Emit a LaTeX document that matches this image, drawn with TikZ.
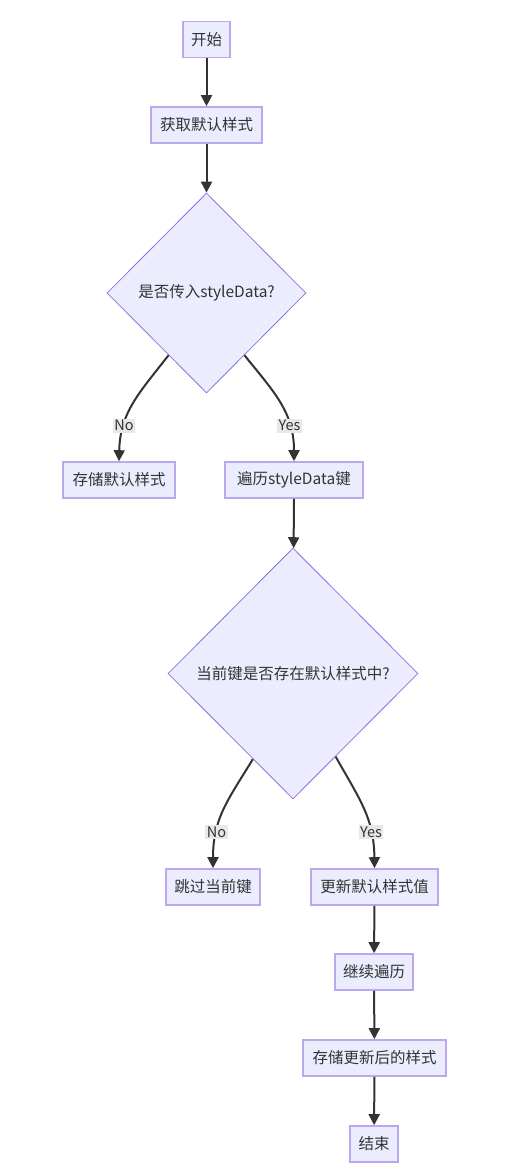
\documentclass[tikz,border=0pt]{standalone}
\usepackage{fontspec}
\setmainfont{Noto Sans CJK SC}
\usetikzlibrary{shapes.geometric,arrows.meta,calc}
\definecolor{nodefill}{HTML}{ECECFF}
\definecolor{boxline}{HTML}{BBA8EE}
\definecolor{diamline}{HTML}{9370DB}
\definecolor{ink}{HTML}{333333}
\definecolor{lblbg}{HTML}{E8E8E8}
\tikzset{
  box/.style={draw=boxline, line width=1.6pt, fill=nodefill, text=ink, inner sep=0pt,
    minimum height=36pt, font=\fontsize{15.5}{17}\selectfont},
  decision/.style={diamond, draw=diamline, line width=0.8pt, fill=nodefill, text=ink,
    inner sep=0pt, font=\fontsize{15.5}{17}\selectfont},
  flow/.style={draw=ink, line width=2pt, -{Triangle[length=11pt,width=11pt]}},
  lbl/.style={fill=lblbg, text=ink, inner sep=1.5pt, font=\fontsize{14.5}{16}\selectfont}
}
\begin{document}
\begin{tikzpicture}[x=1pt,y=-1pt]
\useasboundingbox (0,0) rectangle (512,1170);
\node[box, minimum width=47pt]  (start) at (206.5,39.5) {开始};
\node[box, minimum width=111pt] (get)   at (206.5,125) {获取默认样式};
\node[decision, minimum width=199pt, minimum height=200pt] (d1) at (206.5,293) {是否传入styleData?};
\node[box, minimum width=112pt] (store) at (119,480) {存储默认样式};
\node[box, minimum width=138pt] (iter)  at (294,480) {遍历styleData键};
\node[decision, minimum width=250pt, minimum height=251pt] (d2) at (293,673.5) {当前键是否存在默认样式中?};
\node[box, minimum width=94pt]  (skip)  at (213,887) {跳过当前键};
\node[box, minimum width=127pt] (upd)   at (374.5,887) {更新默认样式值};
\node[box, minimum width=78pt]  (cont)  at (374,972) {继续遍历};
\node[box, minimum width=143pt] (save)  at (374.5,1058) {存储更新后的样式};
\node[box, minimum width=48pt]  (end)   at (374,1144) {结束};

\draw[flow] (start) -- (get);
\draw[flow] (get) -- (d1);
\coordinate (d1l) at ($(d1.west)!0.62!(d1.south)$);
\coordinate (d1r) at ($(d1.east)!0.62!(d1.south)$);
\draw[flow] (d1l) .. controls (140,392) and (120,412) .. (store.north)
  node[lbl, pos=0.72] {No};
\draw[flow] (d1r) .. controls (274,392) and (294,412) .. (iter.north)
  node[lbl, pos=0.72] {Yes};
\draw[flow] (iter) -- (d2);
\coordinate (d2l) at ($(d2.west)!0.68!(d2.south)$);
\coordinate (d2r) at ($(d2.east)!0.66!(d2.south)$);
\draw[flow] (d2l) .. controls (228,800) and (213,818) .. (skip.north)
  node[lbl, pos=0.72] {No};
\draw[flow] (d2r) .. controls (360,800) and (374,818) .. (upd.north)
  node[lbl, pos=0.72] {Yes};
\draw[flow] (upd) -- (cont);
\draw[flow] (cont) -- (save);
\draw[flow] (save) -- (end);
\end{tikzpicture}
\end{document}
